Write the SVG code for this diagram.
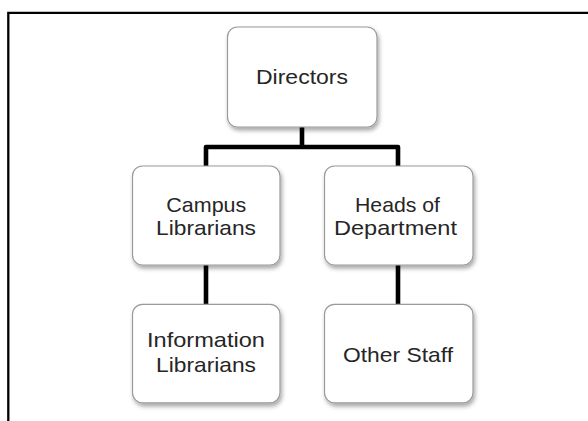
<svg xmlns="http://www.w3.org/2000/svg" width="588" height="421" viewBox="0 0 588 421">
  <defs>
    <filter id="shadow" x="-10%" y="-10%" width="125%" height="130%">
      <feDropShadow dx="1.5" dy="3" stdDeviation="2" flood-color="#000" flood-opacity="0.35"/>
    </filter>
  </defs>
  <style>
    .box { fill: #ffffff; stroke: #9a9a9a; stroke-width: 1.2; filter: url(#shadow); }
    .lbl { font-family: "Liberation Sans", Arial, sans-serif; font-size: 21px; fill: #262626; text-anchor: middle; }
    .conn { fill: none; stroke: #000; stroke-width: 4.6; stroke-linejoin: round; }
    .frame { fill: none; stroke: #000; stroke-width: 2.3; }
  </style>
  <rect width="588" height="421" fill="#fff"/>
  <path class="frame" d="M8.3 421 V12.8 H588"/>

  <g id="connectors">
    <path class="conn" d="M302 127 V147 M206 166 V147 H398 V166"/>
    <path class="conn" d="M206 265 V304"/>
    <path class="conn" d="M398 265 V304"/>
  </g>

  <g id="directors">
    <rect class="box" x="227.5" y="27" width="149.5" height="100" rx="10"/>
    <text class="lbl" x="302" y="84.3" textLength="92" lengthAdjust="spacingAndGlyphs">Directors</text>
  </g>

  <g id="campus-librarians">
    <rect class="box" x="132.5" y="166" width="147.5" height="99" rx="10"/>
    <text class="lbl" x="206.3" y="211.7" textLength="80" lengthAdjust="spacingAndGlyphs">Campus</text>
    <text class="lbl" x="206" y="235" textLength="100" lengthAdjust="spacingAndGlyphs">Librarians</text>
  </g>

  <g id="heads-of-department">
    <rect class="box" x="324.5" y="166" width="148.5" height="99" rx="10"/>
    <text class="lbl" x="397.5" y="211.7" textLength="85" lengthAdjust="spacingAndGlyphs">Heads of</text>
    <text class="lbl" x="395.5" y="235" textLength="123" lengthAdjust="spacingAndGlyphs">Department</text>
  </g>

  <g id="information-librarians">
    <rect class="box" x="132.5" y="304.3" width="147.5" height="98.5" rx="10"/>
    <text class="lbl" x="206" y="347.3" textLength="118" lengthAdjust="spacingAndGlyphs">Information</text>
    <text class="lbl" x="206" y="371.5" textLength="100" lengthAdjust="spacingAndGlyphs">Librarians</text>
  </g>

  <g id="other-staff">
    <rect class="box" x="324.5" y="304.3" width="148.5" height="98.5" rx="10"/>
    <text class="lbl" x="398" y="361.7" textLength="110" lengthAdjust="spacingAndGlyphs">Other Staff</text>
  </g>
</svg>
